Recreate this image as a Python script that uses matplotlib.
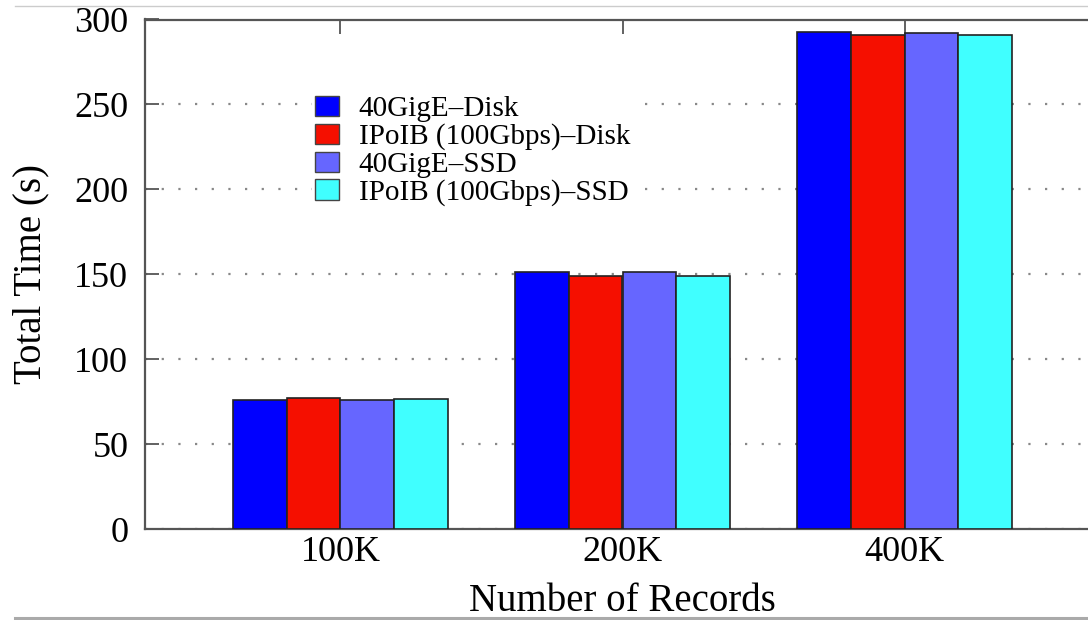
import matplotlib
matplotlib.use("Agg")
import matplotlib.pyplot as plt
from matplotlib.lines import Line2D
import numpy as np

categories = ["100K", "200K", "400K"]
series_names = ["40GigE\u2013Disk", "IPoIB (100Gbps)\u2013Disk", "40GigE\u2013SSD", "IPoIB (100Gbps)\u2013SSD"]
gige_disk = [76.0, 151.5, 292.5]
ipoib_disk = [77.0, 149.0, 290.8]
gige_ssd = [76.0, 151.5, 292.3]
ipoib_ssd = [76.5, 149.0, 291.0]
yticks = [0, 50, 100, 150, 200, 250, 300]

colors = ["#0000ff", "#f50f00", "#6666ff", "#40ffff"]
series = [gige_disk, ipoib_disk, gige_ssd, ipoib_ssd]

plt.rcParams['font.family'] = ['Liberation Serif', 'DejaVu Serif']

W, H = 1088, 620
fig = plt.figure(figsize=(W / 100, H / 100), dpi=100)
ax_l, ax_r, ax_t, ax_b = 145, 1100, 19.5, 529
ax = fig.add_axes([ax_l / W, 1 - ax_b / H, (ax_r - ax_l) / W, (ax_b - ax_t) / H])

x = np.arange(len(categories))
bw = 0.19
for i, (vals, c, name) in enumerate(zip(series, colors, series_names)):
    ax.bar(x + (i - 1.5) * bw, vals, bw, color=c, edgecolor="#222222",
           linewidth=1.2, label=name, zorder=3)

ax.set_xlim(-0.693, 2.693)
ax.set_ylim(0, 300)
ax.set_yticks(yticks)
ax.set_xticks(x)
ax.set_xticklabels(categories)
ax.tick_params(axis='x', bottom=False, top=True, labelbottom=True, direction='in',
               length=10, width=1.3, color="#555555", labelsize=26, pad=5)
ax.tick_params(axis='y', left=True, right=False, direction='in', length=10,
               width=1.3, color="#555555", labelsize=26, pad=12)
ax.yaxis.grid(True, linestyle=(0, (1, 6.5)), color="#888888", linewidth=1.6, zorder=0)
ax.set_axisbelow(True)
for s in ["left", "top", "bottom", "right"]:
    ax.spines[s].set_color("#555555")
    ax.spines[s].set_linewidth(1.6)

ax.set_xlabel("Number of Records", fontsize=28, labelpad=10)
ax.set_ylabel("Total Time (s)", fontsize=28, labelpad=10)
ax.yaxis.set_label_coords(-0.1, 0.5)

leg = ax.legend(loc="upper left", bbox_to_anchor=(312 / W, 1 - 93 / H),
                bbox_transform=fig.transFigure, frameon=True, fontsize=21,
                handlelength=0.82, handleheight=0.69, handletextpad=0.68,
                labelspacing=0.04, borderpad=0.1, borderaxespad=0)
leg.get_frame().set_facecolor("white")
leg.get_frame().set_edgecolor("none")
leg.get_frame().set_alpha(1.0)
for p in leg.get_patches():
    p.set_edgecolor("#444444")
    p.set_linewidth(1.0)

# page rules from the source document
fig.add_artist(Line2D([15 / W, 1.0], [1 - 6 / H, 1 - 6 / H], transform=fig.transFigure,
                      color="#cccccc", linewidth=1.0))
fig.add_artist(Line2D([15 / W, 1.0], [1 - 618 / H, 1 - 618 / H], transform=fig.transFigure,
                      color="#aaaaaa", linewidth=2.2, zorder=10))

fig.savefig("out.png", dpi=100)
